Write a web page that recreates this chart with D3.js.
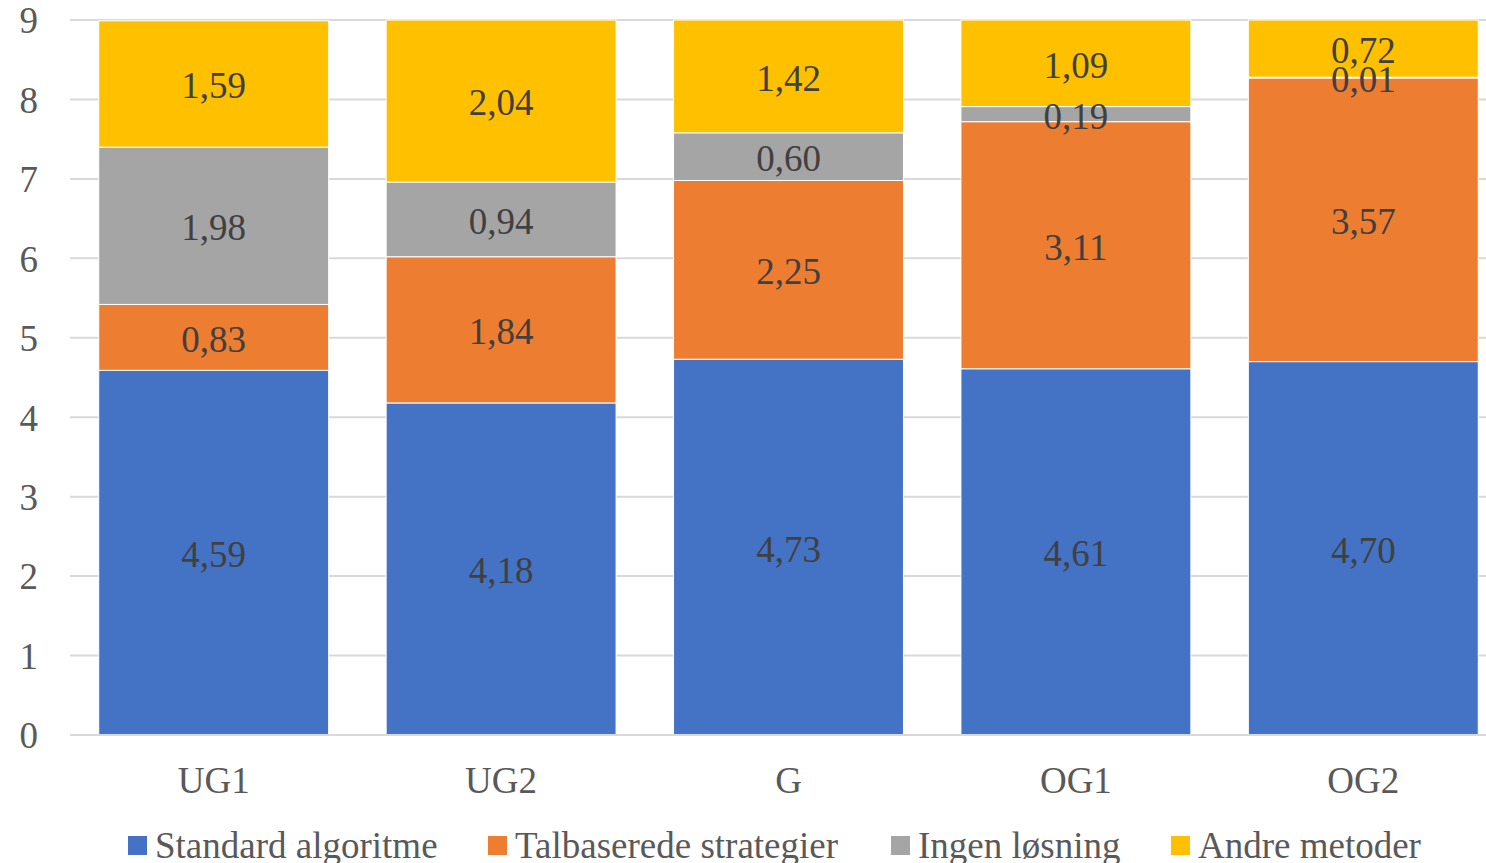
<!DOCTYPE html>
<html><head><meta charset="utf-8">
<script src="https://cdn.jsdelivr.net/npm/d3@7"></script>
<style>body{margin:0;background:#fff;overflow:hidden}</style>
</head><body>
<svg id="c" width="1486" height="863"></svg>
<script>
const categories = ["UG1","UG2","G","OG1","OG2"];
const seriesNames = ["Standard algoritme","Talbaserede strategier","Ingen løsning","Andre metoder"];
const standard = [4.59,4.18,4.73,4.61,4.70];
const talbaserede = [0.83,1.84,2.25,3.11,3.57];
const ingen = [1.98,0.94,0.60,0.19,0.01];
const andre = [1.59,2.04,1.42,1.09,0.72];
const yTicks = [0,1,2,3,4,5,6,7,8,9];
const colors = ["#4472C4","#ED7D31","#A5A5A5","#FFC000"];

const seriesVals = [standard, talbaserede, ingen, andre];
const rows = categories.map((c,i)=>{const o={cat:c}; seriesNames.forEach((s,j)=>o[s]=seriesVals[j][i]); return o;});
const stack = d3.stack().keys(seriesNames)(rows);

const font = "'Liberation Serif','Times New Roman',serif";
const svg = d3.select("#c");
const y = d3.scaleLinear().domain([0,9]).range([735,20]);
const x = d3.scaleBand().domain(categories).range([70,1507]).paddingInner(0.2).paddingOuter(0.1);

// gridlines
svg.append("g").selectAll("line").data(yTicks).join("line")
  .attr("x1",70).attr("x2",1507).attr("y1",d=>y(d)).attr("y2",d=>y(d))
  .attr("stroke","#D9D9D9").attr("stroke-width",2);

// y labels
svg.append("g").selectAll("text").data(yTicks).join("text")
  .attr("x",38).attr("y",d=>y(d)).attr("dy","0.36em").attr("text-anchor","end")
  .attr("font-family",font).attr("font-size",37).attr("fill","#595959").text(d=>d);

// bars
const g = svg.append("g");
stack.forEach((s,j)=>{
  g.append("g").selectAll("rect").data(s).join("rect")
    .attr("x",d=>x(d.data.cat)).attr("width",x.bandwidth())
    .attr("y",d=>y(d[1])).attr("height",d=>y(d[0])-y(d[1]))
    .attr("fill",colors[j]).attr("stroke","#fff").attr("stroke-width",1);
});
// axis baseline
svg.append("line").attr("x1",70).attr("x2",1507).attr("y1",y(0)).attr("y2",y(0))
  .attr("stroke","#D9D9D9").attr("stroke-width",2);

// data labels
const fmt = v=>v.toFixed(2).replace(".",",");
stack.forEach((s,j)=>{
  g.append("g").selectAll("text").data(s).join("text")
    .attr("x",d=>x(d.data.cat)+x.bandwidth()/2)
    .attr("y",d=>y((d[0]+d[1])/2)).attr("dy","0.39em")
    .attr("text-anchor","middle").attr("font-family",font).attr("font-size",37)
    .attr("fill","#404040").text(d=>fmt(d[1]-d[0]));
});

// x labels
svg.append("g").selectAll("text").data(categories).join("text")
  .attr("x",d=>x(d)+x.bandwidth()/2).attr("y",793)
  .attr("text-anchor","middle").attr("font-family",font).attr("font-size",37)
  .attr("fill","#595959").text(d=>d);

// legend
const legX = [128,488,891,1171];
const leg = svg.append("g");
seriesNames.forEach((s,j)=>{
  leg.append("rect").attr("x",legX[j]).attr("y",836).attr("width",19).attr("height",19).attr("fill",colors[j]);
  leg.append("text").attr("x",legX[j]+27).attr("y",858).attr("font-family",font).attr("font-size",37)
    .attr("fill","#595959").text(s);
});
</script>
</body></html>
